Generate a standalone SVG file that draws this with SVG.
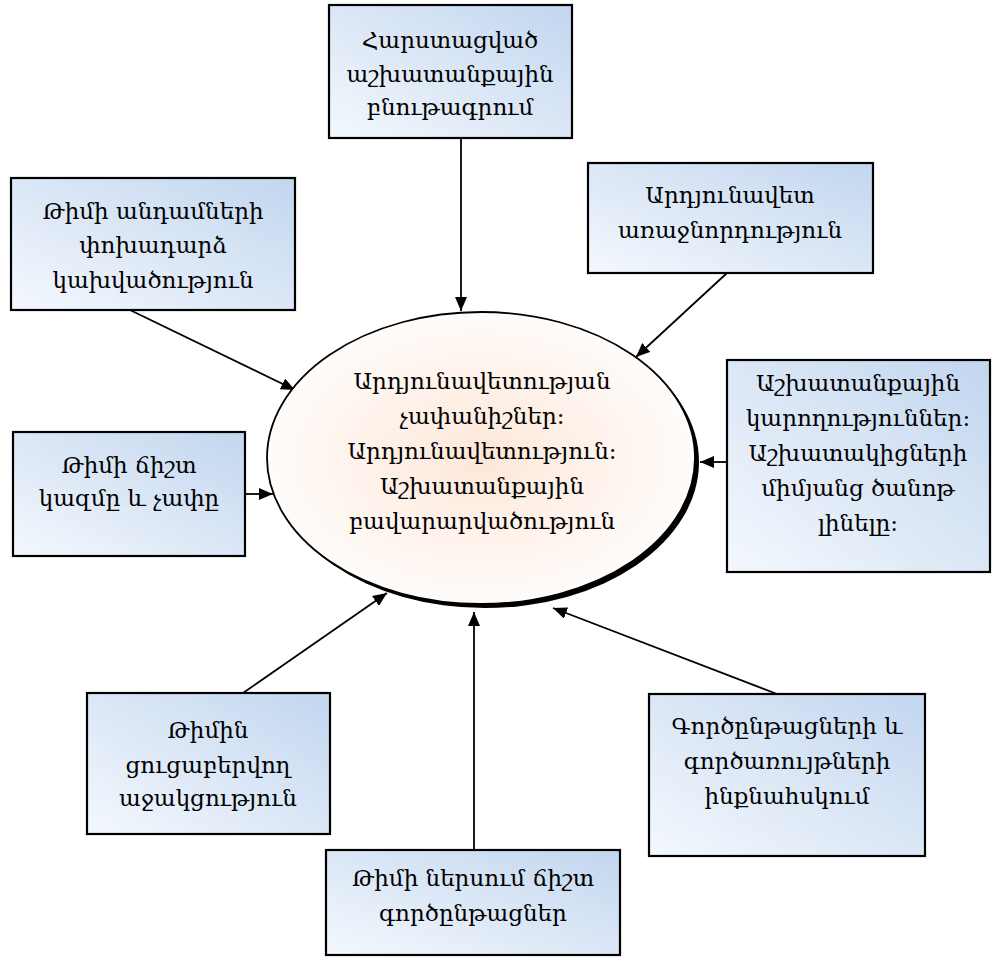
<svg xmlns="http://www.w3.org/2000/svg" width="992" height="957" viewBox="0 0 992 957">
  <style>
    .box { stroke: #000; stroke-width: 2.2; fill: url(#boxFill); }
    .lbl { font-family: "DejaVu Serif", "Noto Sans", serif; font-size: 23px; fill: #000; text-anchor: middle; }
    .conn { stroke: #000; stroke-width: 1.8; fill: none; marker-end: url(#arrow); }
  </style>
  <defs>
    <linearGradient id="boxFill" x1="0" y1="1" x2="1" y2="0">
      <stop offset="0" stop-color="#f4f8fd"/>
      <stop offset="1" stop-color="#c2d6ef"/>
    </linearGradient>
    <radialGradient id="ovalFill" cx="0.5" cy="0.5" r="0.5">
      <stop offset="0" stop-color="#fde7d8"/>
      <stop offset="1" stop-color="#fffcfa"/>
    </radialGradient>
    <marker id="arrow" viewBox="0 0 14 12" refX="14" refY="6" markerWidth="14" markerHeight="12" markerUnits="userSpaceOnUse" orient="auto">
      <path d="M0,0 L14,6 L0,12 Z" fill="#000"/>
    </marker>
  </defs>

  <!-- connectors -->
  <g id="connectors">
    <line class="conn" x1="461" y1="139" x2="461" y2="311"/>
    <line class="conn" x1="130" y1="310" x2="295" y2="390"/>
    <line class="conn" x1="727" y1="273" x2="636" y2="357"/>
    <line class="conn" x1="727" y1="462" x2="700" y2="462"/>
    <line class="conn" x1="245" y1="494" x2="273" y2="494"/>
    <line class="conn" x1="243" y1="693" x2="387" y2="593"/>
    <line class="conn" x1="474" y1="850" x2="474" y2="612"/>
    <line class="conn" x1="777" y1="694" x2="553" y2="608"/>
  </g>

  <!-- central oval with its drop shadow -->
  <g id="center">
    <ellipse cx="485" cy="462" rx="214" ry="146" fill="#000"/>
    <ellipse cx="481" cy="458" rx="214" ry="146" fill="url(#ovalFill)" stroke="#000" stroke-width="1.8"/>
    <text class="lbl" x="482" y="389">Արդյունավետության</text>
    <text class="lbl" x="482" y="424">չափանիշներ:</text>
    <text class="lbl" x="482" y="459">Արդյունավետություն:</text>
    <text class="lbl" x="482" y="494">Աշխատանքային</text>
    <text class="lbl" x="482" y="529">բավարարվածություն</text>
  </g>

  <g id="n-top">
    <rect class="box" x="329" y="5" width="243" height="133"/>
    <text class="lbl" x="450" y="48">Հարստացված</text>
    <text class="lbl" x="450" y="82">աշխատանքային</text>
    <text class="lbl" x="450" y="115">բնութագրում</text>
  </g>

  <g id="n-upper-left">
    <rect class="box" x="11" y="178" width="284" height="132"/>
    <text class="lbl" x="153" y="219">Թիմի անդամների</text>
    <text class="lbl" x="153" y="253">փոխադարձ</text>
    <text class="lbl" x="153" y="288">կախվածություն</text>
  </g>

  <g id="n-upper-right">
    <rect class="box" x="588" y="163" width="285" height="110"/>
    <text class="lbl" x="730" y="203">Արդյունավետ</text>
    <text class="lbl" x="730" y="238">առաջնորդություն</text>
  </g>

  <g id="n-right">
    <rect class="box" x="727" y="360" width="263" height="212"/>
    <text class="lbl" x="858" y="391">Աշխատանքային</text>
    <text class="lbl" x="858" y="426">կարողություններ:</text>
    <text class="lbl" x="858" y="461">Աշխատակիցների</text>
    <text class="lbl" x="858" y="496">միմյանց ծանոթ</text>
    <text class="lbl" x="858" y="531">լինելը:</text>
  </g>

  <g id="n-left">
    <rect class="box" x="13" y="432" width="232" height="124"/>
    <text class="lbl" x="129" y="473">Թիմի ճիշտ</text>
    <text class="lbl" x="129" y="506">կազմը և չափը</text>
  </g>

  <g id="n-lower-left">
    <rect class="box" x="87" y="693" width="243" height="141"/>
    <text class="lbl" x="208" y="738">Թիմին</text>
    <text class="lbl" x="208" y="773">ցուցաբերվող</text>
    <text class="lbl" x="208" y="806">աջակցություն</text>
  </g>

  <g id="n-lower-right">
    <rect class="box" x="649" y="694" width="276" height="162"/>
    <text class="lbl" x="787" y="734">Գործընթացների և</text>
    <text class="lbl" x="787" y="769">գործառույթների</text>
    <text class="lbl" x="787" y="804">ինքնահսկում</text>
  </g>

  <g id="n-bottom">
    <rect class="box" x="326" y="850" width="294" height="105"/>
    <text class="lbl" x="473" y="886">Թիմի ներսում ճիշտ</text>
    <text class="lbl" x="473" y="921">գործընթացներ</text>
  </g>
</svg>
